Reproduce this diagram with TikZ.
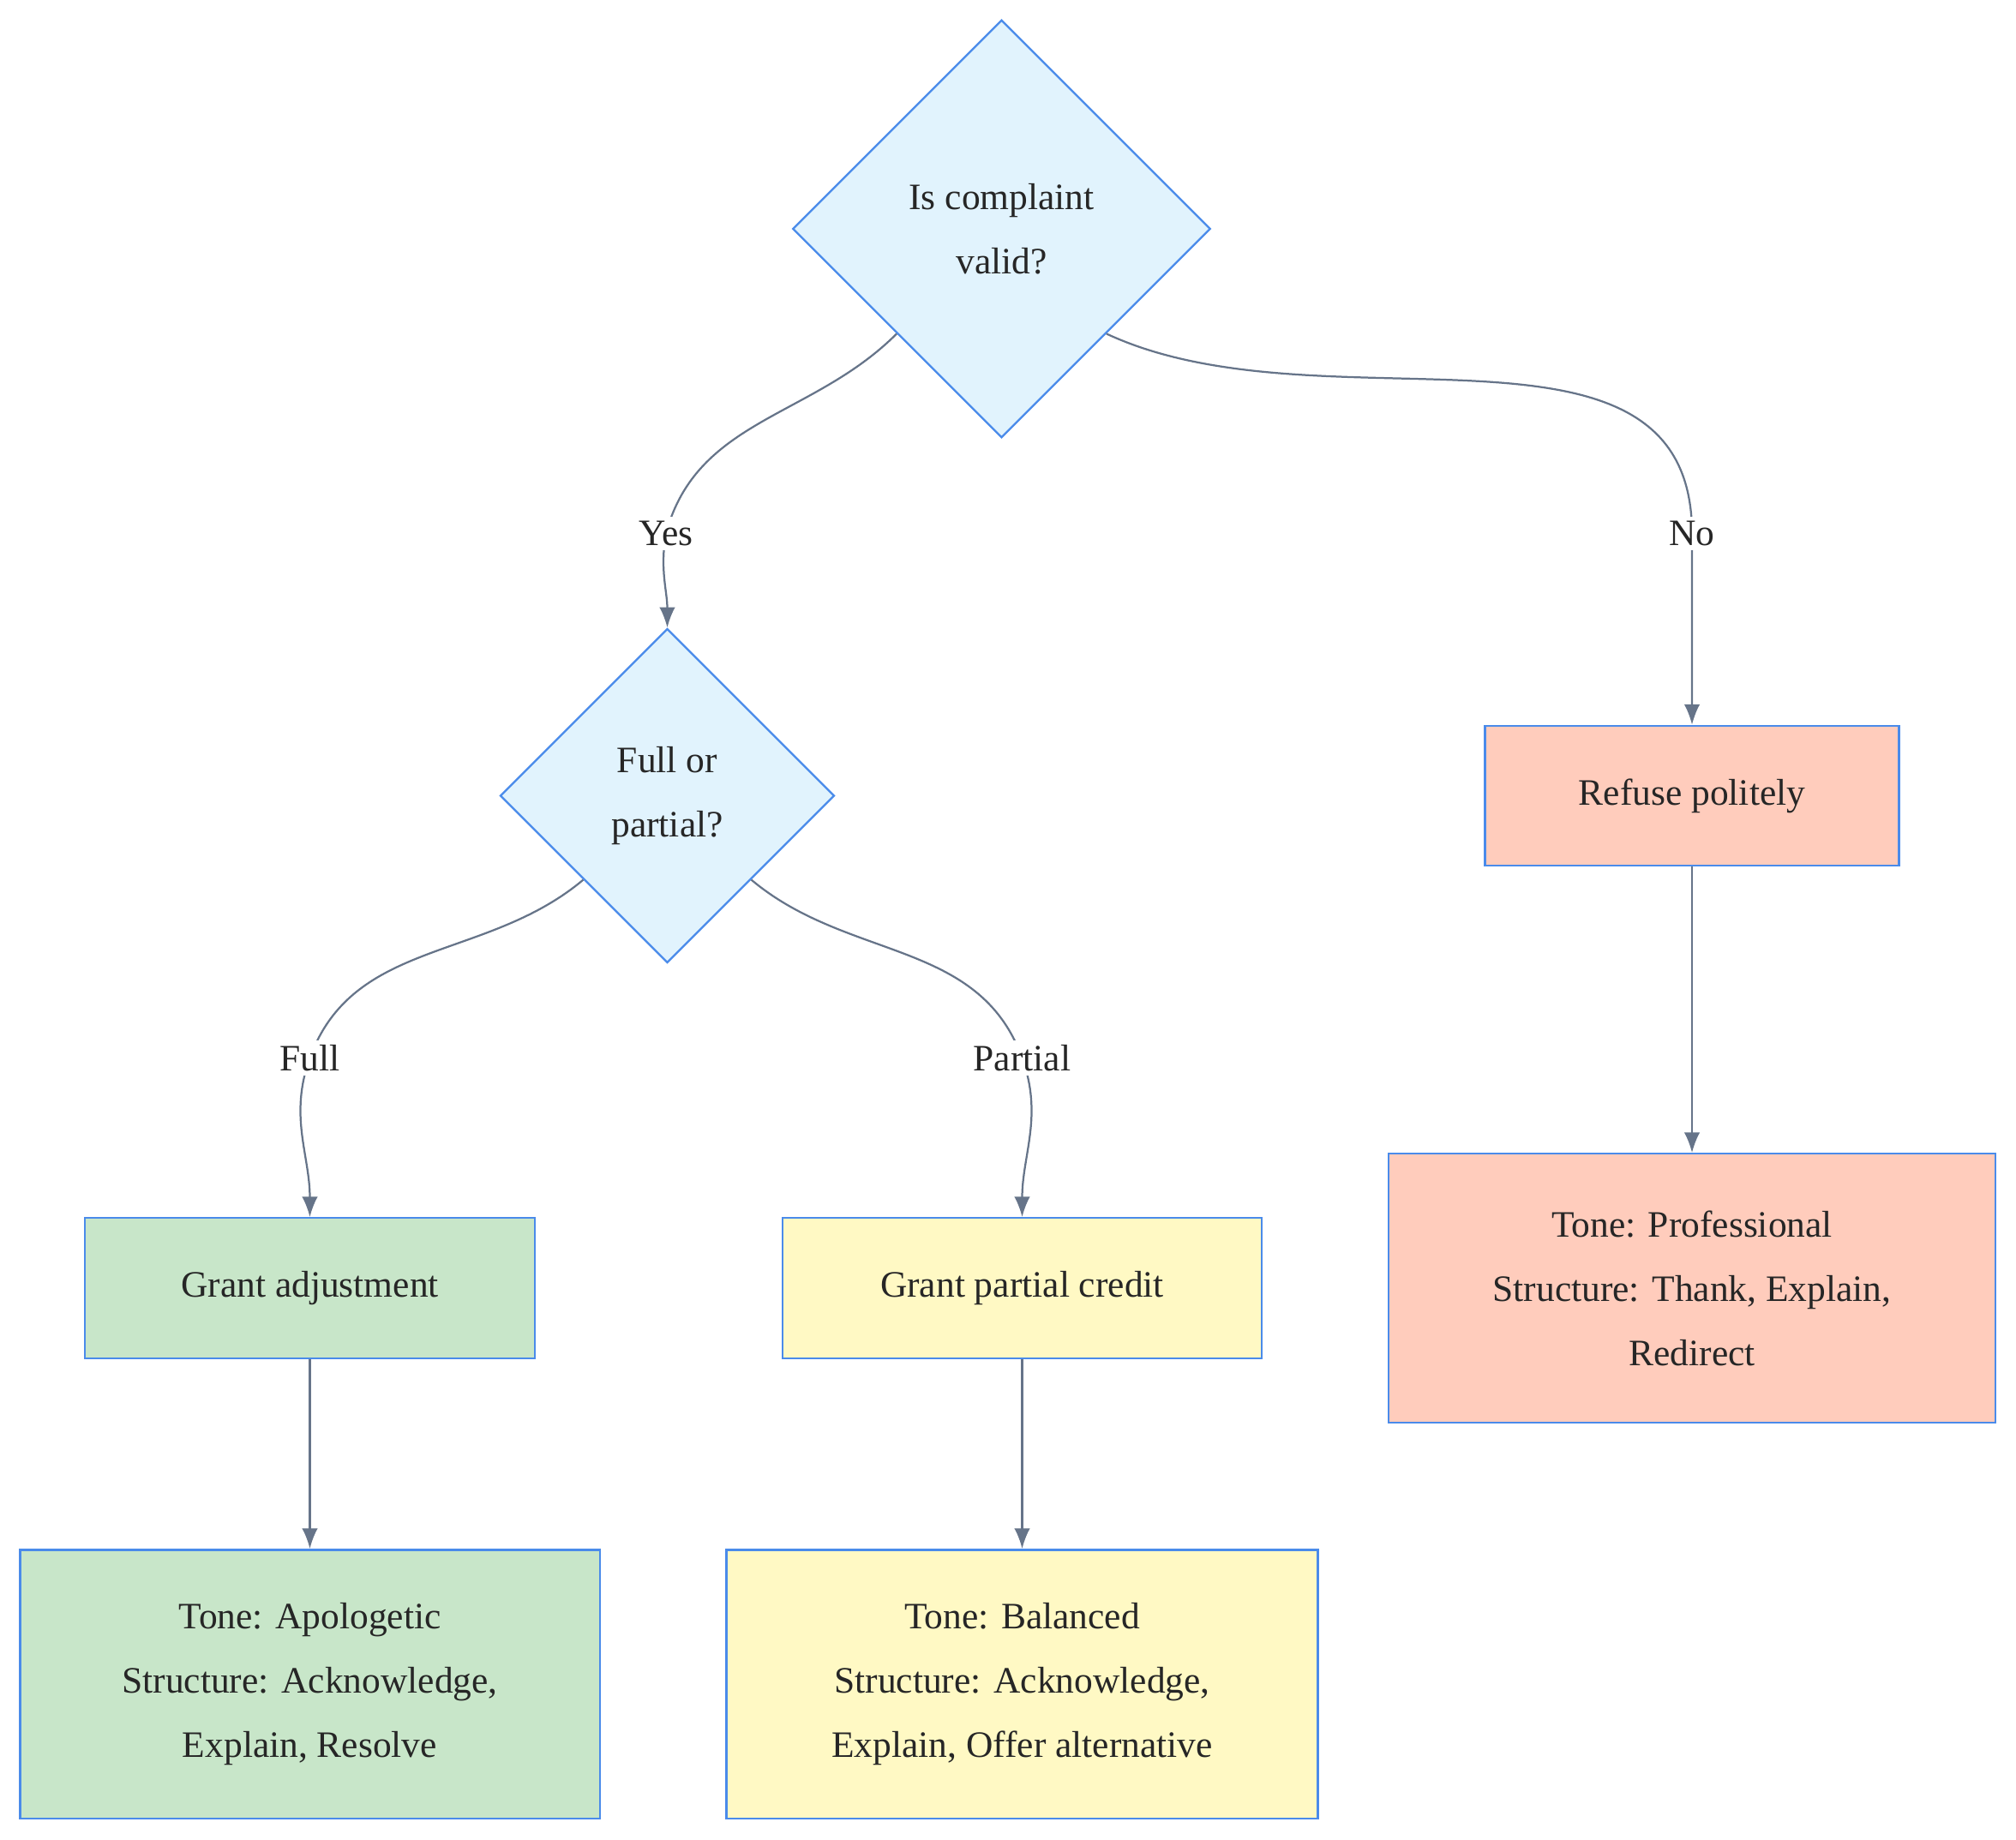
\documentclass[tikz,border=0pt]{standalone}
\usepackage{fontspec}
\setmainfont{Liberation Serif}
\usetikzlibrary{arrows.meta, shapes.geometric}
\definecolor{edgegray}{HTML}{667489}
\definecolor{nodeblue}{HTML}{4A8BEA}
\definecolor{qfill}{HTML}{E1F3FD}
\definecolor{gfill}{HTML}{C8E6C9}
\definecolor{yfill}{HTML}{FFF9C4}
\definecolor{rfill}{HTML}{FFCCBC}

\begin{document}
\begin{tikzpicture}[x=0.02cm, y=-0.02cm,
	every node/.style={font=\fontsize{16.5}{28.5}\selectfont, align=center, text=black!85},
	question/.style={diamond, aspect=1, inner sep=0pt, draw=nodeblue, fill=qfill, line width=0.9pt},
	action/.style={rectangle, draw=nodeblue, line width=0.9pt, minimum height=2.18cm},
	info/.style={rectangle, draw=nodeblue, line width=0.9pt, minimum height=4.18cm},
	lbl/.style={fill=white, inner sep=2pt},
	edge/.style={draw=edgegray, line width=0.85pt, -{Latex[length=9pt, width=7pt]}}]
\useasboundingbox (0,0) rectangle (1568,1431);
\node[question, minimum size=6.5cm] (valid) at (779,178) {Is complaint\\valid?};
\node[question, minimum size=5.2cm] (full) at (519,619) {Full or\\partial?};
\node[action, fill=rfill, minimum width=6.44cm] (refuse) at (1316,619) {Refuse politely};
\node[info, fill=rfill, minimum width=9.44cm] (prof) at (1316,1002) {Tone: Professional\\Structure: Thank, Explain,\\Redirect};
\node[action, fill=gfill, minimum width=7cm] (grant) at (241,1002) {Grant adjustment};
\node[action, fill=yfill, minimum width=7.46cm] (credit) at (795,1002) {Grant partial credit};
\node[info, fill=gfill, minimum width=9.02cm] (apol) at (241,1310) {Tone: Apologetic\\Structure: Acknowledge,\\Explain, Resolve};
\node[info, fill=yfill, minimum width=9.2cm] (bal) at (795,1310) {Tone: Balanced\\Structure: Acknowledge,\\Explain, Offer alternative};
% connectors
\coordinate (yes) at (518,415);
\coordinate (no) at (1316,415);
\coordinate (fl) at (241,823);
\coordinate (pt) at (795,823);
\draw[edge] (valid.south west) to[out=-135, in=75] (yes) to[out=-100, in=90] (full.north);
\draw[edge] (valid.south east) to[out=-25, in=90] (no) -- (refuse.north);
\draw[edge] (full.south west) to[out=-140, in=70] (fl) to[out=-110, in=90] (grant.north);
\draw[edge] (full.south east) to[out=-40, in=110] (pt) to[out=-70, in=90] (credit.north);
\draw[edge] (refuse) -- (prof);
\draw[edge] (grant) -- (apol);
\draw[edge] (credit) -- (bal);
% labels
\node[lbl] at (yes) {Yes};
\node[lbl] at (no) {No};
\node[lbl] at (fl) {Full};
\node[lbl] at (pt) {Partial};
\end{tikzpicture}
\end{document}
